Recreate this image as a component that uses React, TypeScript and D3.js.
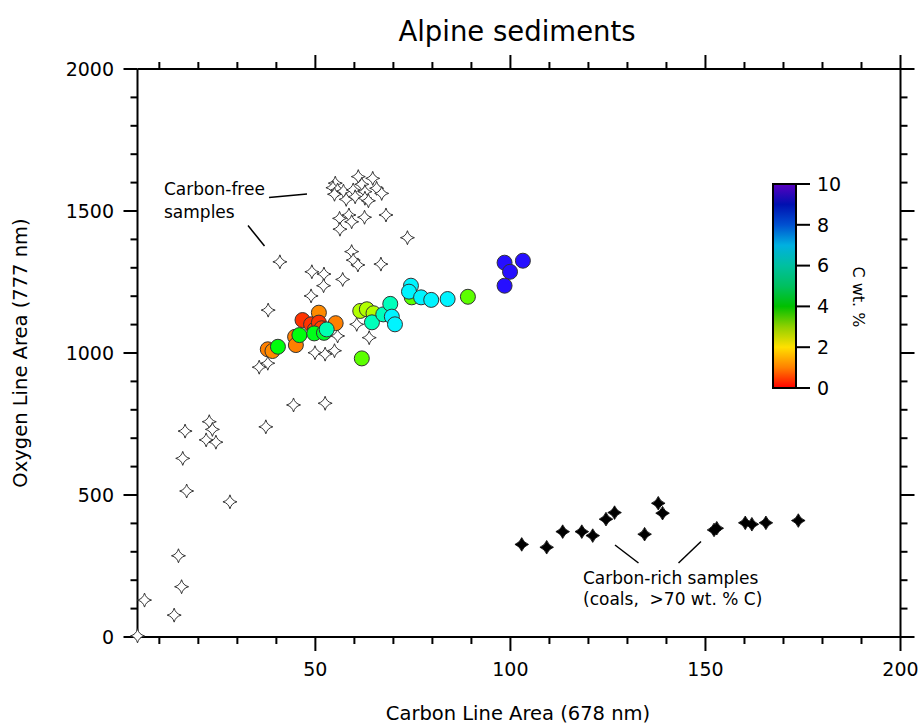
import React from "react";
import * as d3 from "d3";

// ---------- data ----------
// Carbon-free samples (open stars): [carbon area, oxygen area]
const carbonFreeX = [61.0, 64.7, 55.1, 54.5, 55.7, 54.9, 57.2, 59.7, 61.9, 62.7, 65.7, 67.0, 57.9, 60.2, 62.7, 63.6, 58.6, 56.2, 59.3, 62.6, 68.1, 56.3, 73.6, 59.3, 59.7, 60.9, 66.8, 49.1, 52.2, 57.0, 52.1, 40.9, 48.9, 37.9, 60.6, 63.8, 49.9, 52.5, 54.9, 55.7, 35.6, 37.8, 44.4, 52.5, 16.6, 22.8, 23.6, 22.0, 24.5, 37.3, 16.0, 17.0, 28.1, 14.9, 15.7, 6.2, 13.8, 4.4];
const carbonFreeY = [1621, 1615, 1598, 1582, 1574, 1559, 1570, 1574, 1594, 1568, 1580, 1562, 1541, 1550, 1545, 1536, 1486, 1474, 1462, 1478, 1486, 1436, 1406, 1357, 1327, 1310, 1313, 1286, 1278, 1259, 1237, 1321, 1201, 1151, 1101, 1054, 1001, 996, 1008, 1060, 950, 964, 817, 823, 725, 758, 731, 694, 686, 740, 629, 514, 476, 286, 177, 130, 77, 4];

// Alpine sediments (coloured circles)
const sedX = [37.8, 39.0, 40.4, 44.8, 45.0, 45.9, 50.9, 52.5, 55.2, 46.7, 48.9, 49.9, 50.9, 51.6, 49.7, 52.2, 52.9, 61.9, 61.5, 63.2, 64.9, 64.5, 67.4, 69.2, 69.6, 70.4, 74.7, 74.5, 74.0, 77.1, 79.7, 83.9, 89.1, 98.5, 103.2, 99.9, 98.5];
const sedY = [1013, 1007, 1022, 1057, 1028, 1063, 1142, 1075, 1105, 1116, 1101, 1083, 1107, 1087, 1069, 1071, 1083, 981, 1148, 1154, 1140, 1108, 1136, 1173, 1128, 1101, 1196, 1237, 1216, 1196, 1187, 1190, 1198, 1318, 1325, 1286, 1237];
const sedC = [1.0, 1.1, 4.1, 1.0, 1.0, 4.1, 1.1, 1.0, 1.0, 0.4, 0.4, 0.5, 0.4, 0.5, 4.2, 4.3, 5.6, 3.5, 3.0, 3.0, 3.0, 5.7, 5.7, 5.7, 6.5, 6.5, 3.5, 6.5, 6.5, 6.5, 6.5, 6.5, 3.5, 9.3, 9.3, 9.3, 9.3];

// Carbon-rich samples (black stars)
const coalX = [102.9, 109.3, 113.4, 118.3, 121.1, 124.5, 126.7, 134.4, 137.9, 139.0, 152.2, 152.9, 160.2, 161.9, 165.5, 173.8];
const coalY = [326, 316, 371, 371, 357, 415, 438, 362, 471, 436, 377, 383, 402, 397, 402, 410];

// colour table
const colorStops = [0, 1, 2, 3, 4, 5, 6, 7, 8, 9, 10];
const colorValues = ["#ff0000", "#ff8000", "#ffe000", "#90d000", "#00c000", "#00c060", "#00c0a0", "#00b0e0", "#0050d0", "#0010b0", "#5a00c0"];

const xMajorTicks = [50, 100, 150, 200];
const yMajorTicks = [0, 500, 1000, 1500, 2000];
const cbTicks = [0, 2, 4, 6, 8, 10];

// ---------- layout ----------
const W = 919, H = 724;
const L = 137.5, R = 900.5, T = 69, B = 637;
const FONT = "DejaVu Sans, sans-serif";

const x = d3.scaleLinear().domain([4.4, 200]).range([L, R]);
const y = d3.scaleLinear().domain([0, 2000]).range([B, T]);
const color = d3.scaleLinear<string>().domain(colorStops).range(colorValues).interpolate(d3.interpolateRgb);

function bright(c: string) {
  const rgb = d3.rgb(c);
  const m = Math.max(rgb.r, rgb.g, rgb.b) || 1;
  const f = 255 / m;
  return d3.rgb(rgb.r * f, rgb.g * f, rgb.b * f).formatHex();
}

function starPath(r: number, k: number) {
  const c = k * r;
  return `M0,${-r}Q${c},${-c} ${r},0Q${c},${c} 0,${r}Q${-c},${c} ${-r},0Q${-c},${-c} 0,${-r}Z`;
}

const cbX = 773, cbW = 23, cbTop = 184, cbBot = 388;
const cbScale = d3.scaleLinear().domain([0, 10]).range([cbBot, cbTop]);

export default function App() {
  const xMinor = d3.range(10, 201, 10).filter((v) => !xMajorTicks.includes(v));
  const yMinor = d3.range(100, 2000, 100).filter((v) => !yMajorTicks.includes(v));
  const majorLen = 14, minorLen = 7;
  const open = starPath(7, 0.2);
  const filled = starPath(6.8, 0.28);
  return (
    <svg width={W} height={H} style={{ position: "absolute", left: 0, top: 0, background: "#fff" }} fontFamily={FONT}>
      <defs>
        <linearGradient id="cb" x1="0" y1="1" x2="0" y2="0">
          {colorStops.map((s, i) => (
            <stop key={i} offset={s / 10} stopColor={colorValues[i]} />
          ))}
        </linearGradient>
      </defs>
      <text x={517} y={41} textAnchor="middle" fontSize={27.5} fill="#000">Alpine sediments</text>

      {/* axes frame */}
      <g stroke="#000" strokeWidth={2} fill="none">
        <line x1={L} y1={B} x2={R} y2={B} />
        <line x1={L} y1={T} x2={R} y2={T} />
        <line x1={L} y1={T} x2={L} y2={B} />
        <line x1={R} y1={T} x2={R} y2={B} />
        {xMajorTicks.map((v) => (
          <g key={"xM" + v}>
            <line x1={x(v)} x2={x(v)} y1={B} y2={B + majorLen} />
            <line x1={x(v)} x2={x(v)} y1={T} y2={T - majorLen} />
          </g>
        ))}
        {xMinor.map((v) => (
          <g key={"xm" + v}>
            <line x1={x(v)} x2={x(v)} y1={B} y2={B + minorLen} />
            <line x1={x(v)} x2={x(v)} y1={T} y2={T - minorLen} />
          </g>
        ))}
        {yMajorTicks.map((v) => (
          <g key={"yM" + v}>
            <line x1={L} x2={L - majorLen} y1={y(v)} y2={y(v)} />
            <line x1={R} x2={R + majorLen} y1={y(v)} y2={y(v)} />
          </g>
        ))}
        {yMinor.map((v) => (
          <g key={"ym" + v}>
            <line x1={L} x2={L - minorLen} y1={y(v)} y2={y(v)} />
            <line x1={R} x2={R + minorLen} y1={y(v)} y2={y(v)} />
          </g>
        ))}
      </g>
      <g fontSize={19} fill="#000">
        {xMajorTicks.map((v) => (
          <text key={"xl" + v} x={x(v)} y={676} textAnchor="middle">{v}</text>
        ))}
        {yMajorTicks.map((v) => (
          <text key={"yl" + v} x={114} y={y(v)} dy="0.36em" textAnchor="end">{v}</text>
        ))}
      </g>
      <text x={518} y={720} textAnchor="middle" fontSize={19.5}>Carbon Line Area (678 nm)</text>
      <text transform={`translate(27,353) rotate(-90)`} textAnchor="middle" fontSize={19.5}>Oxygen Line Area (777 nm)</text>

      {/* open stars */}
      <g fill="#fff" stroke="#333" strokeWidth={1}>
        {carbonFreeX.map((v, i) => (
          <path key={"cf" + i} d={open} transform={`translate(${x(v)},${y(carbonFreeY[i])})`} />
        ))}
      </g>
      {/* coloured circles */}
      <g stroke="#333" strokeWidth={1}>
        {sedX.map((v, i) => (
          <circle key={"s" + i} cx={x(v)} cy={y(sedY[i])} r={7.5} fill={bright(color(sedC[i]))} />
        ))}
      </g>
      {/* black stars */}
      <g fill="#000" stroke="#000" strokeWidth={0.8}>
        {coalX.map((v, i) => (
          <path key={"co" + i} d={filled} transform={`translate(${x(v)},${y(coalY[i])})`} />
        ))}
      </g>

      {/* annotations */}
      <g fontSize={17} fill="#000">
        <text x={164} y={195}>Carbon-free</text>
        <text x={164} y={218}>samples</text>
        <text x={583} y={584}>Carbon-rich samples</text>
        <text x={583} y={605}>{"(coals,\u00a0 >70 wt. % C)"}</text>
      </g>
      <g stroke="#000" strokeWidth={1.5}>
        <line x1={269} y1={197.5} x2={307} y2={194} />
        <line x1={248} y1={225.5} x2={264.5} y2={246} />
        <line x1={615} y1={545} x2={638.5} y2={563} />
        <line x1={701} y1={541.5} x2={678.5} y2={563} />
      </g>

      {/* colour bar */}
      <rect x={cbX} y={cbTop} width={cbW} height={cbBot - cbTop} fill="url(#cb)" stroke="#000" strokeWidth={2} />
      <g stroke="#000" strokeWidth={2}>
        {cbTicks.map((v) => (
          <line key={"cbt" + v} x1={cbX + cbW} x2={cbX + cbW + 14} y1={cbScale(v)} y2={cbScale(v)} />
        ))}
      </g>
      <g fontSize={19}>
        {cbTicks.map((v) => (
          <text key={"cbl" + v} x={817} y={cbScale(v)} dy="0.36em">{v}</text>
        ))}
      </g>
      <text transform={`translate(853,297) rotate(90)`} textAnchor="middle" fontSize={16}>C wt. %</text>
    </svg>
  );
}
